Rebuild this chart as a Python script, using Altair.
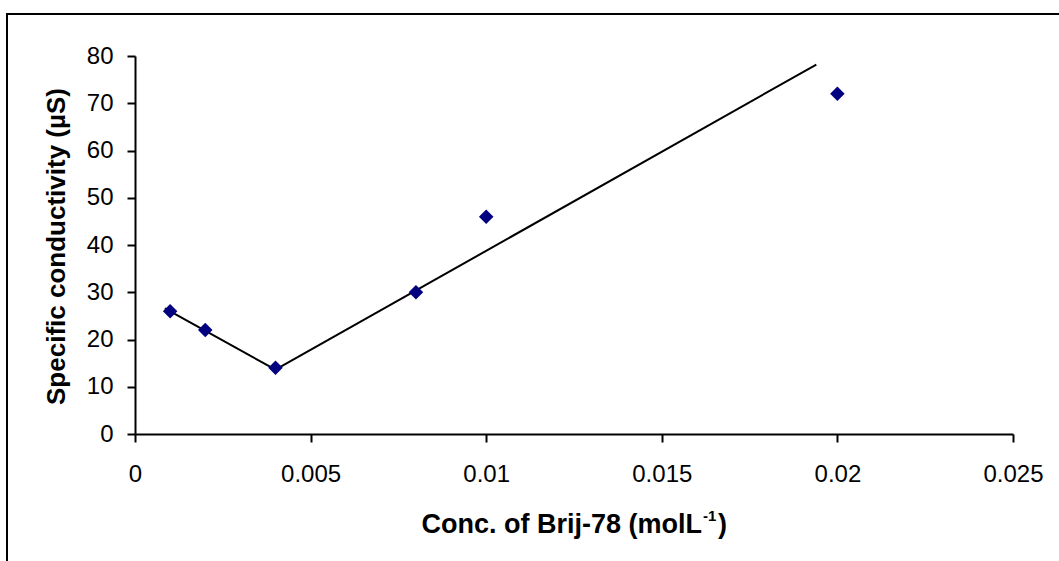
import altair as alt
import pandas as pd

# Measured data points
conc = [0.001, 0.002, 0.004, 0.008, 0.01, 0.02]
conductivity = [26, 22, 14, 30, 46, 72]

# Hand-fitted lines (end points)
line_seg = ["low", "low", "high", "high"]
line_x = [0.00085, 0.004, 0.004, 0.0194]
line_y = [26.6, 13.6, 13.6, 78.2]

x_ticks = [0, 0.005, 0.01, 0.015, 0.02, 0.025]
y_ticks = [0, 10, 20, 30, 40, 50, 60, 70, 80]

x_title_main = "Conc. of Brij-78 (molL"
x_title_sup = "-1"
x_title_end = ")"
y_title = "Specific conductivity (µS)"

FONT = "Liberation Sans, Arial, sans-serif"

pts = pd.DataFrame({"x": conc, "y": conductivity})
lines = pd.DataFrame({"seg": line_seg, "x": line_x, "y": line_y})

xscale = alt.Scale(domain=[0, 0.025], nice=False, zero=True)
yscale = alt.Scale(domain=[0, 80], nice=False, zero=True)

xaxis = alt.Axis(
    values=x_ticks, format="~g", title=None,
    grid=False, domainColor="black", domainWidth=2, tickColor="black",
    tickWidth=2, tickSize=8, labelFont=FONT, labelFontSize=24,
    labelColor="black", labelPadding=20, labelFlush=False,
)
yaxis = alt.Axis(
    values=y_ticks, title=y_title,
    grid=False, domainColor="black", domainWidth=2, tickColor="black",
    tickWidth=2, tickSize=8, labelFont=FONT, labelFontSize=24,
    labelColor="black", labelPadding=14, labelFlush=False,
    titleFont=FONT, titleFontSize=26, titleFontWeight="bold",
    titleColor="black", titleX=-79, titleY=190, titleBaseline="middle",
    titleAlign="center", titleAngle=-90,
)

line_layer = alt.Chart(lines).mark_line(color="black", strokeWidth=2).encode(
    x=alt.X("x:Q", scale=xscale, axis=xaxis),
    y=alt.Y("y:Q", scale=yscale, axis=yaxis),
    detail="seg:N",
)

point_layer = alt.Chart(pts).mark_point(
    shape="diamond", filled=True, color="#000080", size=210, opacity=1
).encode(
    x=alt.X("x:Q", scale=xscale),
    y=alt.Y("y:Q", scale=yscale),
)

one = alt.Data(values=[{"a": 1}])

border = alt.Chart(one).mark_rect(
    filled=False, stroke="black", strokeWidth=2
).encode(
    x=alt.value(-128), x2=alt.value(960), y=alt.value(-42), y2=alt.value(600)
)

t_main = alt.Chart(one).mark_text(
    text=x_title_main, font=FONT, fontSize=27, fontWeight="bold",
    color="black", align="right", baseline="alphabetic"
).encode(x=alt.value(567), y=alt.value(477))

t_sup = alt.Chart(one).mark_text(
    text=x_title_sup, font=FONT, fontSize=15, fontWeight="bold",
    color="black", align="left", baseline="alphabetic"
).encode(x=alt.value(568), y=alt.value(465))

t_end = alt.Chart(one).mark_text(
    text=x_title_end, font=FONT, fontSize=27, fontWeight="bold",
    color="black", align="left", baseline="alphabetic"
).encode(x=alt.value(583), y=alt.value(477))

chart = alt.layer(border, line_layer, point_layer, t_main, t_sup, t_end).properties(
    width=878, height=378,
    autosize=alt.AutoSizeParams(type="none"),
    padding={"left": 135, "top": 56, "right": 46, "bottom": 127},
    background="white",
).configure_view(stroke=None)

chart.save("out.html", embed_options={"renderer": "svg", "actions": False})
